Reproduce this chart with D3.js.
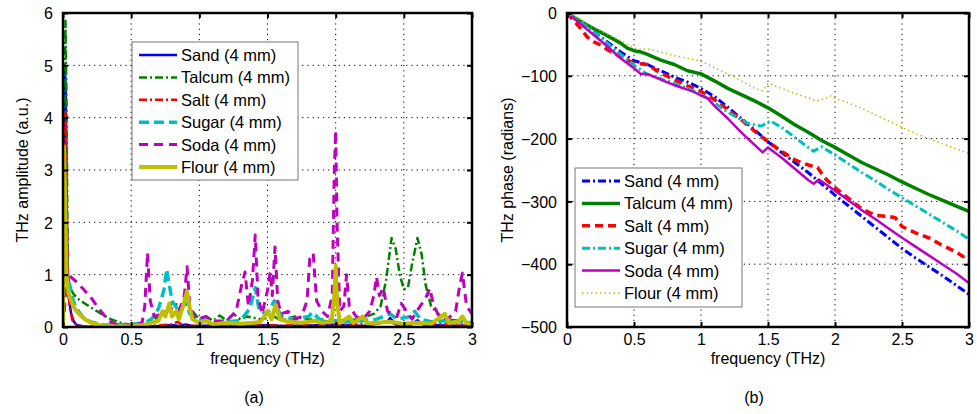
<!DOCTYPE html>
<html>
<head>
<meta charset="utf-8">
<title>THz amplitude and phase</title>
<script src="https://d3js.org/d3.v7.min.js"></script>
<style>
  body { margin: 0; background: #fff; }
  svg { font-family: "Liberation Sans", Arial, sans-serif; }
  .grid line { stroke: #000; stroke-width: 1; stroke-dasharray: 1.2,4; }
</style>
</head>
<body>
<svg id="chart" width="977" height="414"></svg>
<script>
  // ---- data ----
  let labels = ['Sand (4 mm)', 'Talcum (4 mm)', 'Salt (4 mm)', 'Sugar (4 mm)', 'Soda (4 mm)', 'Flour (4 mm)'];
  let colors = ['#0000ff', '#008000', '#ff0000', '#00bfbf', '#bf00bf', '#bfbf00'];
  let freqTicks = [0, 0.5, 1, 1.5, 2, 2.5, 3];
  let ampTicks = [0, 1, 2, 3, 4, 5, 6];
  let phaseTicks = [-500, -400, -300, -200, -100, 0];

  // (a) amplitude spectra, [frequency THz, amplitude a.u.]
  let sandAmp = [[0,0],[0.012,5.0],[0.02,4.6],[0.03,1.5],[0.04,0.6],[0.06,0.25],[0.08,0.1],[0.1,0.04],[0.15,0.01],[0.3,0],[0.5,0.01],
    [0.7,0.02],[0.8,0.04],[0.85,0.02],[0.9,0.05],[0.95,0.02],[1.1,0.03],[1.3,0.02],[1.5,0.04],[1.6,0.02],[1.8,0.03],[2.0,0.05],
    [2.2,0.02],[2.38,0.1],[2.4,0.17],[2.44,0.05],[2.55,0.04],[2.6,0.13],[2.64,0.05],[2.8,0.03],[3.0,0.02]];
  let talcumAmp = [[0,0],[0.01,3],[0.018,5.85],[0.025,4.5],[0.035,1.0],[0.05,0.75],[0.08,0.62],[0.12,0.52],[0.16,0.45],[0.2,0.38],
    [0.25,0.3],[0.3,0.22],[0.35,0.15],[0.4,0.1],[0.45,0.06],[0.5,0.04],[0.6,0.05],[0.65,0.1],[0.7,0.2],[0.75,0.3],[0.8,0.45],
    [0.85,0.42],[0.9,0.45],[0.95,0.3],[1.0,0.15],[1.05,0.2],[1.1,0.12],[1.15,0.22],[1.2,0.12],[1.25,0.25],[1.3,0.15],[1.35,0.2],
    [1.45,0.15],[1.55,0.2],[1.6,0.12],[1.7,0.2],[1.8,0.15],[1.9,0.12],[2.0,0.1],[2.1,0.12],[2.2,0.18],[2.28,0.25],[2.33,0.4],
    [2.37,0.9],[2.41,1.7],[2.44,1.5],[2.47,1.0],[2.5,0.72],[2.53,0.75],[2.56,1.2],[2.6,1.7],[2.63,1.4],[2.66,0.8],[2.7,0.4],
    [2.75,0.25],[2.8,0.15],[2.9,0.12],[3.0,0.08]];
  let saltAmp = [[0,0],[0.01,2.0],[0.018,4.1],[0.025,3.0],[0.035,1.0],[0.05,0.35],[0.07,0.12],[0.1,0.04],[0.15,0.01],[0.4,0],
    [0.6,0.01],[0.8,0.05],[0.84,0.1],[0.88,0.03],[1.0,0.02],[1.3,0.02],[1.5,0.03],[2.0,0.03],[2.4,0.1],[2.45,0.03],[2.6,0.08],[3.0,0.02]];
  let sugarAmp = [[0,0],[0.015,1.0],[0.03,0.95],[0.05,0.8],[0.07,0.55],[0.09,0.4],[0.12,0.28],[0.15,0.18],[0.2,0.1],[0.3,0.04],
    [0.5,0.05],[0.6,0.08],[0.65,0.15],[0.7,0.35],[0.74,0.7],[0.76,1.1],[0.78,0.8],[0.8,0.5],[0.85,0.3],[0.9,0.45],[0.93,0.25],
    [1.0,0.15],[1.1,0.12],[1.2,0.1],[1.3,0.12],[1.37,0.35],[1.41,0.75],[1.44,0.3],[1.5,0.25],[1.55,0.5],[1.6,0.2],[1.7,0.15],
    [1.8,0.2],[1.83,0.28],[1.88,0.15],[2.0,0.12],[2.1,0.1],[2.2,0.12],[2.3,0.15],[2.4,0.25],[2.45,0.15],[2.55,0.2],[2.58,0.3],
    [2.62,0.15],[2.7,0.1],[2.8,0.12],[2.9,0.1],[3.0,0.08]];
  let sodaAmp = [[0,0],[0.015,0.5],[0.03,1.05],[0.06,0.95],[0.1,0.86],[0.15,0.72],[0.2,0.58],[0.25,0.4],[0.3,0.23],[0.35,0.1],
    [0.4,0.04],[0.5,0.03],[0.58,0.08],[0.6,0.4],[0.62,1.42],[0.64,0.5],[0.67,0.2],[0.72,0.25],[0.76,0.3],[0.8,0.35],[0.85,0.3],
    [0.89,0.6],[0.91,1.15],[0.93,0.4],[0.97,0.15],[1.05,0.2],[1.1,0.1],[1.2,0.12],[1.27,0.3],[1.31,0.8],[1.335,1.05],[1.36,0.4],
    [1.39,0.9],[1.41,1.76],[1.43,0.6],[1.46,0.25],[1.5,0.7],[1.52,1.05],[1.535,0.6],[1.555,1.53],[1.575,0.5],[1.6,0.25],[1.65,0.3],
    [1.7,0.15],[1.75,0.2],[1.79,0.5],[1.81,1.3],[1.835,1.41],[1.86,0.5],[1.9,0.3],[1.94,0.2],[1.975,0.6],[1.99,3.0],[2.0,3.75],
    [2.01,2.0],[2.03,0.3],[2.06,0.4],[2.08,1.0],[2.1,0.4],[2.15,0.2],[2.2,0.15],[2.25,0.3],[2.28,0.6],[2.3,0.96],[2.32,0.6],
    [2.35,0.75],[2.38,0.3],[2.45,0.2],[2.48,0.45],[2.52,0.3],[2.56,0.15],[2.62,0.4],[2.66,0.55],[2.69,0.74],[2.72,0.4],[2.76,0.2],
    [2.82,0.15],[2.88,0.3],[2.91,0.8],[2.93,1.03],[2.96,0.4],[3.0,0.25]];
  let flourAmp = [[0,0],[0.008,3.45],[0.015,2.5],[0.025,1.0],[0.04,0.65],[0.06,0.5],[0.08,0.38],[0.1,0.3],[0.13,0.22],[0.16,0.15],
    [0.2,0.09],[0.25,0.05],[0.3,0.02],[0.4,0.01],[0.5,0.02],[0.6,0.04],[0.65,0.08],[0.7,0.12],[0.73,0.3],[0.75,0.2],[0.78,0.45],
    [0.8,0.2],[0.83,0.3],[0.85,0.15],[0.88,0.4],[0.91,0.68],[0.93,0.35],[0.95,0.15],[1.0,0.08],[1.05,0.12],[1.1,0.05],[1.2,0.08],
    [1.3,0.06],[1.4,0.08],[1.45,0.1],[1.5,0.3],[1.53,0.15],[1.56,0.42],[1.59,0.15],[1.65,0.1],[1.75,0.08],[1.85,0.12],[1.9,0.08],
    [1.97,0.1],[1.99,0.6],[2.0,1.17],[2.01,0.5],[2.03,0.08],[2.1,0.2],[2.13,0.08],[2.2,0.2],[2.23,0.07],[2.3,0.08],[2.4,0.1],
    [2.5,0.06],[2.6,0.08],[2.7,0.06],[2.8,0.25],[2.83,0.08],[2.9,0.1],[2.93,0.2],[2.96,0.08],[3.0,0.05]];

  // (b) phase, [frequency THz, phase radians]
  let sandPhase = [[0,0],[0.1,-14],[0.2,-30],[0.3,-46],[0.4,-62],[0.5,-76],[0.6,-82],[0.7,-92],[0.8,-102],[0.9,-110],[1.0,-120],
    [1.1,-133],[1.2,-150],[1.3,-168],[1.4,-186],[1.5,-205],[1.6,-222],[1.7,-238],[1.8,-254],[1.9,-272],[2.0,-290],[2.1,-307],
    [2.2,-324],[2.3,-341],[2.4,-358],[2.5,-375],[2.6,-390],[2.7,-404],[2.8,-418],[2.9,-433],[3.0,-448]];
  let talcumPhase = [[0,0],[0.1,-13],[0.2,-25],[0.3,-36],[0.4,-48],[0.45,-56],[0.5,-60],[0.55,-62],[0.6,-66],[0.7,-75],[0.8,-82],
    [0.9,-92],[1.0,-97],[1.1,-108],[1.2,-120],[1.3,-130],[1.4,-140],[1.5,-151],[1.6,-164],[1.7,-178],[1.8,-190],[1.9,-203],
    [2.0,-214],[2.1,-226],[2.2,-238],[2.3,-248],[2.4,-258],[2.5,-269],[2.6,-279],[2.7,-289],[2.8,-298],[2.9,-307],[3.0,-316]];
  let saltPhase = [[0,0],[0.05,-12],[0.1,-24],[0.15,-38],[0.2,-46],[0.25,-51],[0.3,-58],[0.4,-70],[0.5,-80],[0.6,-82],[0.7,-96],
    [0.8,-106],[0.9,-116],[1.0,-125],[1.1,-138],[1.2,-154],[1.3,-170],[1.4,-188],[1.5,-205],[1.6,-220],[1.7,-234],[1.8,-242],
    [1.87,-246],[1.92,-262],[2.0,-278],[2.1,-295],[2.2,-312],[2.3,-322],[2.4,-324],[2.45,-326],[2.5,-340],[2.6,-350],[2.7,-358],
    [2.8,-370],[2.9,-380],[3.0,-394]];
  let sugarPhase = [[0,0],[0.1,-14],[0.2,-30],[0.3,-48],[0.4,-66],[0.5,-83],[0.6,-98],[0.7,-105],[0.8,-112],[0.9,-120],[1.0,-129],
    [1.1,-143],[1.2,-158],[1.3,-170],[1.35,-176],[1.45,-180],[1.52,-172],[1.6,-182],[1.7,-198],[1.8,-214],[1.84,-220],[1.9,-213],
    [2.0,-226],[2.1,-240],[2.2,-254],[2.3,-267],[2.4,-281],[2.5,-294],[2.6,-307],[2.7,-320],[2.8,-333],[2.9,-346],[3.0,-360]];
  let sodaPhase = [[0,0],[0.1,-17],[0.2,-35],[0.3,-53],[0.4,-72],[0.5,-88],[0.55,-97],[0.6,-97],[0.7,-106],[0.8,-115],[0.9,-122],
    [0.95,-126],[1.0,-131],[1.05,-136],[1.1,-148],[1.2,-168],[1.3,-190],[1.4,-210],[1.46,-222],[1.5,-214],[1.6,-230],[1.7,-248],
    [1.8,-266],[1.84,-272],[1.88,-265],[1.94,-274],[2.0,-283],[2.1,-298],[2.2,-314],[2.3,-328],[2.4,-343],[2.5,-358],[2.6,-372],
    [2.7,-386],[2.8,-400],[2.9,-414],[3.0,-430]];
  let flourPhase = [[0,0],[0.1,-10],[0.2,-22],[0.3,-33],[0.4,-44],[0.5,-56],[0.55,-58],[0.6,-57],[0.7,-62],[0.8,-68],[0.9,-72],
    [1.0,-77],[1.1,-87],[1.2,-97],[1.3,-108],[1.4,-120],[1.46,-124],[1.5,-112],[1.55,-116],[1.6,-120],[1.7,-128],[1.8,-135],
    [1.86,-140],[1.9,-138],[1.97,-132],[2.0,-136],[2.1,-143],[2.2,-152],[2.3,-162],[2.4,-172],[2.5,-182],[2.6,-192],[2.7,-200],
    [2.8,-208],[2.9,-216],[3.0,-224]];

  let ampSeries = [sandAmp, talcumAmp, saltAmp, sugarAmp, sodaAmp, flourAmp];
  let phaseSeries = [sandPhase, talcumPhase, saltPhase, sugarPhase, sodaPhase, flourPhase];

  // line styles: [width, dasharray]
  let ampStyles = [[2.5, null], [2.5, '8,3,2,3'], [2.5, '8,3,2,3'], [3.5, '10,5'], [3, '9,6'], [4, null]];
  let phaseStyles = [[3, '8,3,2,3'], [3.5, null], [3.5, '8,5'], [3, '8,3,2,3'], [2.5, null], [1.5, '1.5,3']];

  let svg = d3.select('#chart');

  function drawPanel(opt) {
    let x = d3.scaleLinear().domain([0, 3]).range([opt.x0, opt.x1]);
    let y = d3.scaleLinear().domain(opt.yDomain).range([327, 13]);
    let g = svg.append('g');

    g.append('clipPath').attr('id', opt.id + '-clip')
      .append('rect').attr('x', opt.x0).attr('y', 13).attr('width', opt.x1 - opt.x0).attr('height', 314);

    // dotted grid
    let grid = g.append('g').attr('class', 'grid');
    grid.selectAll('.gx').data(freqTicks.slice(1, -1)).enter().append('line')
      .attr('x1', d => x(d)).attr('x2', d => x(d)).attr('y1', 13).attr('y2', 327);
    grid.selectAll('.gy').data(opt.ticks.slice(1, -1)).enter().append('line')
      .attr('y1', d => y(d)).attr('y2', d => y(d)).attr('x1', opt.x0).attr('x2', opt.x1);

    // data lines
    let line = d3.line().x(d => x(d[0])).y(d => y(d[1]));
    let lines = g.append('g').attr('clip-path', 'url(#' + opt.id + '-clip)');
    opt.series.forEach((s, i) => {
      lines.append('path').attr('d', line(s))
        .attr('fill', 'none').attr('stroke', colors[i])
        .attr('stroke-width', opt.styles[i][0])
        .attr('stroke-dasharray', opt.styles[i][1])
        .attr('stroke-linejoin', 'round');
    });

    // axes with inward ticks (box style)
    let fmt = d => String(d).replace('-', '\u2212');
    let bottom = g.append('g').attr('transform', 'translate(0,327)')
      .call(d3.axisBottom(x).tickValues(freqTicks).tickSize(-5).tickPadding(7).tickFormat(fmt));
    let top = g.append('g').attr('transform', 'translate(0,13)')
      .call(d3.axisTop(x).tickValues(freqTicks).tickSize(-5).tickFormat(''));
    let left = g.append('g').attr('transform', 'translate(' + opt.x0 + ',0)')
      .call(d3.axisLeft(y).tickValues(opt.ticks).tickSize(-5).tickPadding(10).tickFormat(fmt));
    let right = g.append('g').attr('transform', 'translate(' + opt.x1 + ',0)')
      .call(d3.axisRight(y).tickValues(opt.ticks).tickSize(-5).tickFormat(''));
    [bottom, top, left, right].forEach(a => {
      a.select('.domain').remove();
      a.selectAll('line').attr('stroke', '#000').attr('stroke-width', 2);
      a.selectAll('text').attr('font-size', 16).attr('fill', '#000').attr('font-family', null);
    });
    left.selectAll('text').attr('dy', '0.36em');

    g.append('rect').attr('x', opt.x0).attr('y', 13)
      .attr('width', opt.x1 - opt.x0).attr('height', 314)
      .attr('fill', 'none').attr('stroke', '#000').attr('stroke-width', 2.5);

    // labels
    g.append('text').attr('x', (opt.x0 + opt.x1) / 2).attr('y', 364)
      .attr('text-anchor', 'middle').attr('font-size', 16).text('frequency (THz)');
    g.append('text').attr('transform', 'translate(' + opt.yLabelX + ',170) rotate(-90)')
      .attr('text-anchor', 'middle').attr('dy', '0.35em').attr('font-size', 16).text(opt.yLabel);
    g.append('text').attr('x', opt.captionX).attr('y', 403)
      .attr('text-anchor', 'middle').attr('font-size', 16).text(opt.caption);

    // legend
    let lg = g.append('g');
    lg.append('rect').attr('x', opt.legend[0]).attr('y', opt.legend[1])
      .attr('width', opt.legend[2]).attr('height', opt.legend[3])
      .attr('fill', '#fff').attr('stroke', '#777').attr('stroke-width', 1);
    labels.forEach((name, i) => {
      let cy = opt.legend[1] + 13 + i * 22.4;
      lg.append('line').attr('x1', opt.legend[0] + 7).attr('x2', opt.legend[0] + 45)
        .attr('y1', cy).attr('y2', cy)
        .attr('stroke', colors[i]).attr('stroke-width', opt.styles[i][0])
        .attr('stroke-dasharray', opt.styles[i][1]);
      lg.append('text').attr('x', opt.legend[0] + 49).attr('y', cy).attr('dy', '0.36em')
        .attr('font-size', 16.5).text(name);
    });
  }

  drawPanel({
    id: 'amp', x0: 63, x1: 472, yDomain: [0, 6], ticks: ampTicks,
    series: ampSeries, styles: ampStyles,
    yLabel: 'THz amplitude (a.u.)', yLabelX: 22, caption: '(a)', captionX: 254,
    legend: [132, 42, 166, 138]
  });
  drawPanel({
    id: 'phase', x0: 567, x1: 969, yDomain: [-500, 0], ticks: phaseTicks,
    series: phaseSeries, styles: phaseStyles,
    yLabel: 'THz phase (radians)', yLabelX: 507, caption: '(b)', captionX: 754,
    legend: [575, 168, 167, 139]
  });
</script>
</body>
</html>
